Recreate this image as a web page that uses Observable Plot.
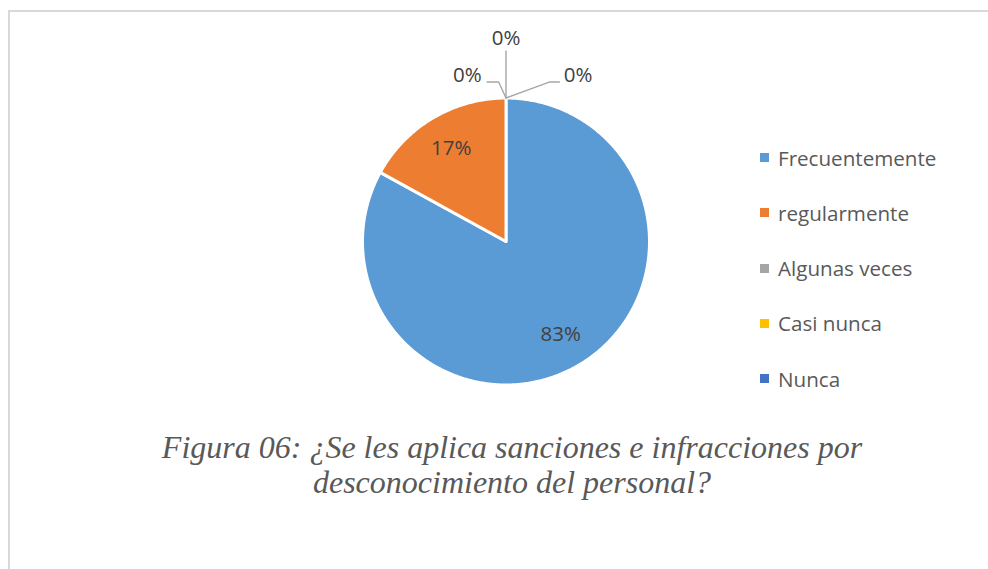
<!DOCTYPE html>
<html>
<head>
<meta charset="utf-8">
<script src="https://cdn.jsdelivr.net/npm/d3@7"></script>
<script src="https://cdn.jsdelivr.net/npm/@observablehq/plot@0.6"></script>
<style>
  html, body { margin: 0; padding: 0; background: #fff; overflow: hidden; width: 988px; height: 569px; }
  #frame { position: absolute; left: 8px; top: 10px; width: 1100px; height: 700px; border: 2px solid #d9d9d9; box-sizing: border-box; }
  #chart { position: absolute; left: 0; top: 0; }
  .leg { position: absolute; left: 760px; height: 28px; line-height: 28px; display: flex; align-items: center;
         font-family: "Open Sans", sans-serif; font-size: 20.6px; color: #595959; white-space: nowrap; }
  .leg .sw { width: 9px; height: 9px; margin-right: 9px; display: inline-block; }
  #caption { position: absolute; left: 0; width: 1024px; top: 430px; text-align: center;
             font-family: "Liberation Serif", "Times New Roman", serif; font-style: italic; font-size: 32px;
             line-height: 35px; color: #595959; }
</style>
</head>
<body>
<div id="frame"></div>
<div id="chart"></div>
<div id="legend"></div>
<div id="caption"></div>
<script>
// ---- data ----
const categories = ["Frecuentemente", "regularmente", "Algunas veces", "Casi nunca", "Nunca"];
const percents = [83, 17, 0, 0, 0];
const sliceColors = ["#5B9BD5", "#ED7D31", "#A5A5A5", "#FFC000", "#4472C4"];
const captionLines = ["Figura 06: ¿Se les aplica sanciones e infracciones por", "desconocimiento del personal?"];

// ---- layout (label placement for zero-value slices, in unit-circle coordinates) ----
const zeroLabelLayout = [
  {tx: -0.27, ty: 1.155, elbow: [[-0.051, 1.111], [-0.132, 1.111]]},
  {tx: 0.0,   ty: 1.415, elbow: [[0.0, 1.326]]},
  {tx: 0.503, ty: 1.155, elbow: [[0.301, 1.111], [0.372, 1.111]]}
];

const rows = categories.map((c, i) => ({category: c, value: percents[i], color: sliceColors[i]}));
const arcs = d3.pie().sort(null).value(d => d.value)(rows);

// slice outlines (polygon of each wedge)
const marks = [];
arcs.forEach(a => {
  if (a.data.value <= 0) return;
  const n = Math.max(2, Math.ceil((a.endAngle - a.startAngle) / (Math.PI / 360)));
  const pts = [{x: 0, y: 0}];
  for (let k = 0; k <= n; k++) {
    const t = a.startAngle + (a.endAngle - a.startAngle) * k / n;
    pts.push({x: Math.sin(t), y: Math.cos(t)});
  }
  pts.push({x: 0, y: 0});
  marks.push(Plot.line(pts, {x: "x", y: "y", fill: a.data.color, stroke: "white", strokeWidth: 3, strokeLinejoin: "round", curve: "linear"}));
});

// data labels for non-zero slices
const labelR = 0.75;
const valueLabels = arcs.filter(a => a.data.value > 0).map(a => {
  const m = (a.startAngle + a.endAngle) / 2;
  return {x: labelR * Math.sin(m), y: labelR * Math.cos(m), text: a.data.value + "%"};
});

// zero labels with leader lines
const zeroArcs = arcs.filter(a => a.data.value === 0);
const leaderPts = [];
const zeroLabels = [];
zeroArcs.forEach((a, i) => {
  const L = zeroLabelLayout[i];
  leaderPts.push({x: Math.sin(a.startAngle), y: Math.cos(a.startAngle), g: i});
  L.elbow.forEach(p => leaderPts.push({x: p[0], y: p[1], g: i}));
  zeroLabels.push({x: L.tx, y: L.ty, text: a.data.value + "%"});
});

marks.push(Plot.line(leaderPts, {x: "x", y: "y", z: "g", stroke: "#A6A6A6", strokeWidth: 1.4}));
marks.push(Plot.text(valueLabels, {x: "x", y: "y", text: "text", fill: "#404040", fontSize: 20.5}));
marks.push(Plot.text(zeroLabels, {x: "x", y: "y", text: "text", fill: "#404040", fontSize: 20.5}));

const chart = Plot.plot({
  width: 988,
  height: 569,
  margin: 0,
  x: {domain: [-1, 1], range: [362, 649], axis: null},
  y: {domain: [-1, 1], range: [384.5, 97.5], axis: null},
  style: {fontFamily: "'Open Sans', sans-serif", background: "transparent"},
  marks
});
document.getElementById("chart").appendChild(chart);

// legend
const legendTop = 143.7, legendStep = 55.25;
const legend = document.getElementById("legend");
rows.forEach((r, i) => {
  const d = document.createElement("div");
  d.className = "leg";
  d.style.top = (legendTop + i * legendStep) + "px";
  const sw = document.createElement("span");
  sw.className = "sw";
  sw.style.background = r.color;
  d.appendChild(sw);
  d.appendChild(document.createTextNode(r.category));
  legend.appendChild(d);
});

// caption
const cap = document.getElementById("caption");
captionLines.forEach(l => {
  const d = document.createElement("div");
  d.textContent = l;
  cap.appendChild(d);
});
</script>
</body>
</html>
